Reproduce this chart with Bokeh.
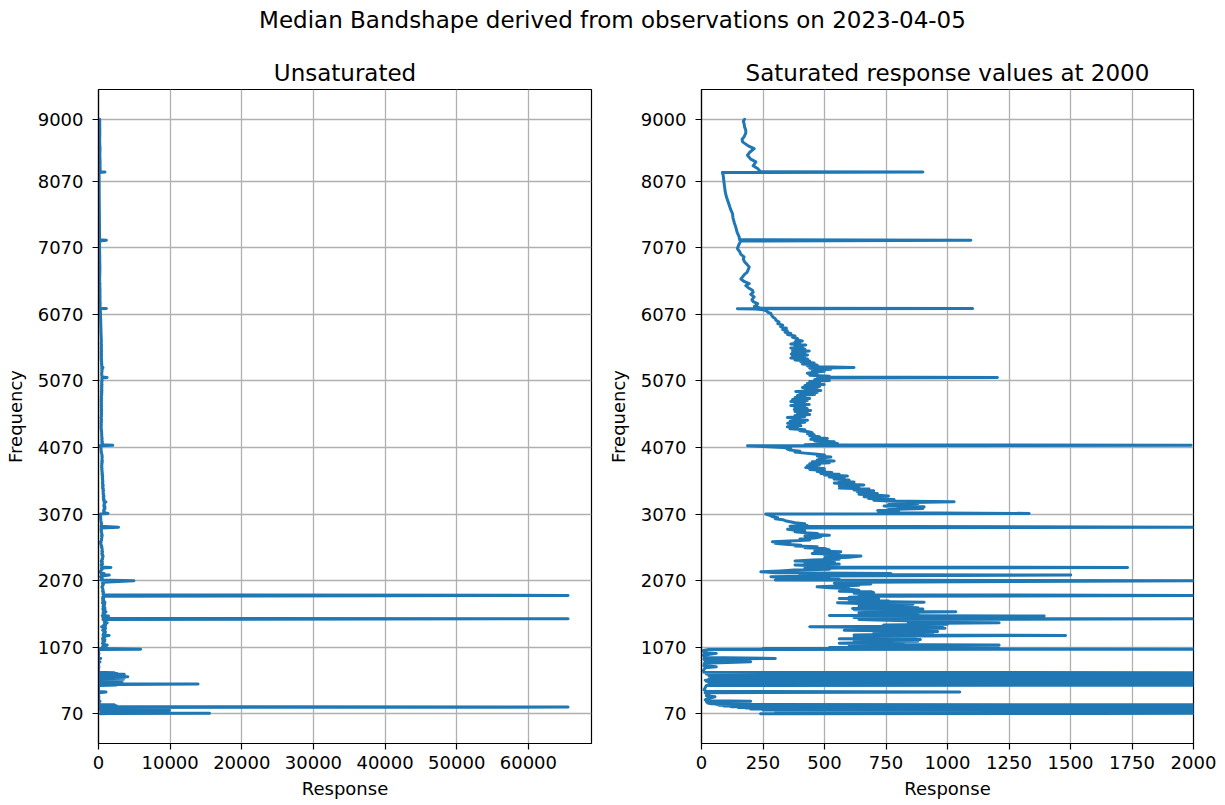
import numpy as np
from bokeh.plotting import figure
from bokeh.models import Range1d, FixedTicker, Div
from bokeh.layouts import column, row
from bokeh.embed import file_html
from bokeh.resources import INLINE

# ---------------- data (frequency, median response) ----------------
F1 = [70, 74, 78, 82, 86, 90, 94, 98, 102, 106,
      110, 114, 118, 122, 126, 130, 134, 138, 142, 146,
      150, 154, 158, 162, 166, 170, 176, 180, 186, 192,
      198, 204, 210, 216, 222]
R1 = [240, 1600, 15500, 900, 3500, 400, 3600, 2200, 600, 4200,
      300, 2800, 700, 9900, 250, 2400, 500, 3100, 200, 2600,
      350, 1900, 180, 2300, 150, 65535, 120, 2100, 90, 2500,
      70, 2200, 60, 150, 40]

F2 = [232, 250, 258, 265, 280, 300, 325, 340, 360, 385,
      398, 405, 430, 460, 495, 500, 505, 510, 516, 522,
      528, 534, 540, 546, 552, 558, 565, 572, 578, 584,
      590, 596, 602, 608, 614, 620, 626, 632, 638, 644,
      650, 656, 662, 668, 674, 680, 686, 692, 720, 760,
      776, 790, 830, 851, 865, 890, 902, 915, 950, 977,
      990, 1020, 1035]
R2 = [25, 20, 200, 30, 15, 25, 55, 20, 30, 15,
      1050, 20, 10, 15, 20, 2500, 60, 3000, 13900, 40,
      2800, 30, 3300, 50, 2600, 20, 300, 15, 3000, 40,
      3500, 30, 3200, 60, 3700, 40, 4100, 50, 3400, 30,
      3000, 40, 3600, 20, 2600, 30, 2200, 10, 8, 15,
      60, 10, 12, 200, 15, 10, 300, 12, 8, 60,
      10, 8, 30]

F3 = [1041, 1050, 1058, 1066, 1075, 1085, 1095, 1102, 1110, 1120,
      1130, 1142, 1150, 1160, 1170, 1180, 1187, 1195, 1205, 1215,
      1225, 1235, 1247, 1255, 1265, 1275, 1285, 1295, 1305, 1317,
      1325, 1335, 1345, 1355, 1365, 1377, 1385, 1395, 1405, 1415,
      1425, 1437, 1445, 1455, 1465, 1475, 1485, 1497, 1505, 1515,
      1525, 1537, 1545, 1555, 1565, 1575, 1585, 1595, 1602, 1610,
      1620, 1632, 1642, 1652, 1662, 1672, 1685, 1695, 1705, 1715,
      1725, 1737, 1745, 1755, 1765, 1775, 1785, 1795, 1802, 1812,
      1822, 1835, 1848, 1858, 1870, 1880, 1890, 1902, 1912, 1925,
      1940, 1952, 1962, 1977, 1990, 2000, 2010, 2020, 2030, 2045]
R3 = [5880, 250, 1210, 520, 760, 600, 870, 1210, 640, 820,
      560, 700, 640, 880, 620, 760, 890, 560, 720, 620,
      870, 680, 1480, 620, 790, 700, 940, 760, 960, 740,
      580, 900, 740, 990, 760, 440, 880, 980, 740, 1000,
      860, 1210, 840, 960, 880, 750, 640, 65535, 700, 620,
      880, 1393, 520, 780, 880, 720, 640, 860, 1034, 700,
      760, 620, 900, 614, 880, 780, 640, 820, 720, 860,
      640, 553, 905, 700, 760, 600, 680, 720, 560, 690,
      600, 720, 65535, 640, 700, 620, 700, 690, 560, 640,
      600, 600, 520, 470, 560, 640, 593, 688, 540, 640]

F4 = [2068, 2078, 2090, 2100, 2110, 2120, 2128, 2140, 2153, 2160,
      2170, 2178, 2188, 2203, 2215, 2228, 2240, 2250, 2260, 2268,
      2276, 2290, 2305, 2318, 2328, 2340, 2352, 2365, 2378, 2392,
      2405, 2420, 2438, 2450, 2465, 2478, 2490, 2503, 2515, 2530,
      2553, 2565, 2580, 2590, 2603, 2615, 2630, 2642, 2653, 2668,
      2680, 2695, 2710, 2728, 2740, 2752, 2765, 2778, 2790, 2805,
      2818, 2828, 2840, 2852, 2862, 2873, 2885, 2898, 2910, 2925,
      2940, 2955, 2970, 2985, 3000, 3015, 3029, 3045, 3060, 3070]
R4 = [4940, 300, 560, 420, 520, 330, 282, 500, 1501, 400,
      560, 770, 300, 241, 320, 377, 520, 420, 560, 1732,
      420, 480, 380, 560, 499, 420, 540, 380, 451, 560,
      500, 600, 648, 500, 560, 450, 520, 566, 460, 520,
      499, 420, 470, 380, 404, 340, 300, 360, 288, 380,
      440, 400, 460, 485, 420, 520, 440, 471, 420, 380,
      420, 383, 350, 420, 380, 2800, 360, 430, 400, 420,
      380, 360, 340, 330, 300, 310, 290, 280, 270, 261]

F5 = [3079, 3090, 3100, 3112, 3122, 3129, 3140, 3152, 3165, 3178,
      3190, 3204, 3215, 3228, 3240, 3254, 3265, 3278, 3290, 3302,
      3315, 3329, 3342, 3355, 3368, 3380, 3392, 3404, 3418, 3430,
      3445, 3460, 3479, 3492, 3505, 3520, 3535, 3550, 3565, 3580,
      3595, 3610, 3625, 3640, 3655, 3668, 3680, 3695, 3710, 3725,
      3740, 3755, 3768, 3780, 3795, 3810, 3825, 3840, 3855, 3868,
      3880, 3895, 3910, 3925, 3940, 3955, 3970, 3985, 4000, 4015,
      4030, 4045, 4055, 4070, 4085, 4095]
R5 = [1332, 800, 720, 790, 716, 803, 760, 900, 800, 905,
      742, 820, 760, 880, 800, 1027, 760, 700, 783, 680,
      740, 661, 760, 700, 640, 715, 650, 634, 700, 620,
      681, 560, 640, 560, 660, 580, 540, 620, 560, 600,
      539, 580, 520, 593, 500, 560, 485, 530, 470, 500,
      440, 499, 424, 470, 430, 480, 440, 520, 450, 539,
      470, 500, 480, 526, 471, 500, 460, 420, 380, 400,
      360, 349, 363, 330, 250, 187]

F6 = [4102, 4110, 4120, 4130, 4142, 4155, 4168, 4180, 4192, 4205,
      4218, 4230, 4245, 4260, 4275, 4290, 4305, 4320, 4335, 4350,
      4365, 4380, 4395, 4405, 4420, 4435, 4450, 4465, 4480, 4495,
      4505, 4520, 4535, 4550, 4565, 4580, 4595, 4610, 4625, 4640,
      4655, 4670, 4685, 4700, 4715, 4731, 4745, 4760, 4775, 4790,
      4805, 4820, 4835, 4850, 4865, 4880, 4895, 4910, 4925, 4940,
      4955, 4970, 4985, 5000, 5015, 5030, 5045, 5060, 5075, 5090,
      5105, 5115]
R6 = [1990, 420, 480, 553, 470, 540, 460, 500, 444, 512,
      450, 480, 440, 458, 431, 450, 435, 400, 420, 360,
      390, 349, 404, 360, 400, 350, 420, 360, 431, 370,
      400, 349, 420, 380, 440, 390, 430, 380, 444, 377,
      430, 380, 420, 363, 438, 380, 420, 363, 430, 370,
      440, 380, 420, 390, 460, 400, 470, 383, 485, 420,
      470, 410, 480, 420, 499, 430, 480, 440, 520, 460,
      500, 471]

F7 = [5121, 5128, 5140, 5155, 5170, 5185, 5200, 5215, 5230, 5245,
      5260, 5270, 5281, 5295, 5310, 5325, 5340, 5356, 5370, 5385,
      5400, 5415, 5431, 5445, 5460, 5475, 5490, 5505, 5520, 5535,
      5550, 5565, 5580, 5595, 5610, 5625, 5640, 5655, 5670, 5690,
      5707, 5725, 5745, 5765, 5782, 5800, 5820, 5840, 5860, 5882,
      5905, 5930, 5955, 5982, 6005, 6030, 6055, 6082, 6100, 6120,
      6140, 6150]
R7 = [1203, 480, 520, 440, 470, 430, 458, 500, 450, 526,
      440, 620, 480, 431, 470, 410, 458, 404, 440, 380,
      431, 363, 420, 370, 431, 365, 420, 370, 438, 370,
      420, 363, 410, 380, 424, 363, 400, 380, 410, 385,
      390, 370, 380, 350, 363, 340, 349, 330, 345, 322,
      330, 310, 315, 302, 300, 290, 285, 282, 270, 265,
      250, 220]

F8 = [6154, 6157, 6162, 6175, 6190, 6210, 6232, 6260, 6290, 6332,
      6370, 6400, 6432, 6470, 6500, 6532, 6560, 6600, 6632, 6670,
      6700, 6740, 6782, 6820, 6860, 6900, 6932, 6970, 7010, 7058,
      7100, 7140, 7170, 7183, 7190, 7233, 7300, 7383, 7450, 7520,
      7583, 7650, 7720, 7784, 7850, 7920, 7980, 8034, 8100, 8160,
      8200, 8206, 8212, 8259, 8300, 8359, 8400, 8459, 8500, 8559,
      8600, 8660, 8700, 8735, 8790, 8835, 8885, 8935, 8970, 9000]
R8 = [146, 1102, 240, 230, 215, 225, 228, 210, 205, 214,
      200, 210, 207, 190, 180, 194, 175, 160, 167, 175,
      185, 190, 194, 185, 175, 170, 173, 160, 155, 146,
      150, 155, 160, 1095, 155, 153, 145, 139, 133, 128,
      126, 118, 112, 106, 100, 96, 94, 92, 90, 88,
      85, 900, 240, 228, 210, 221, 200, 187, 195, 214,
      190, 167, 165, 173, 180, 180, 175, 173, 170, 175]

SATURATION = 2000
Y_TICKS = [70, 1070, 2070, 3070, 4070, 5070, 6070, 7070, 8070, 9000]
X_TICKS_LEFT = [0, 10000, 20000, 30000, 40000, 50000, 60000]
X_TICKS_RIGHT = [0, 250, 500, 750, 1000, 1250, 1500, 1750, 2000]

SUPTITLE = "Median Bandshape derived from observations on 2023-04-05"
TITLE_LEFT = "Unsaturated"
TITLE_RIGHT = "Saturated response values at 2000"

freq = np.array(F1 + F2 + F3 + F4 + F5 + F6 + F7 + F8, dtype=float)
resp = np.array(R1 + R2 + R3 + R4 + R5 + R6 + R7 + R8, dtype=float)
resp_sat = np.minimum(resp, SATURATION)

FONT = "DejaVu Sans"
BLUE = "#1f77b4"
ypad = 0.05 * (freq.max() - freq.min())
xmax_left = resp.max() * 1.05

FIG_H = 765


def make_fig(title, xs, x_end, xticks, width, mbl, mbr):
    p = figure(width=width, height=FIG_H, output_backend="svg", toolbar_location=None,
               x_range=Range1d(0, x_end),
               y_range=Range1d(freq.min() - ypad, freq.max() + ypad),
               min_border_left=mbl, min_border_right=mbr,
               min_border_top=49, min_border_bottom=62)
    p.title.text = title
    p.title.text_font = FONT
    p.title.text_font_size = "23px"
    p.title.text_font_style = "normal"
    p.title.text_color = "black"
    p.title.align = "center"
    p.title.standoff = 8
    p.line(x=xs, y=freq, line_color=BLUE, line_width=3,
           line_join="round", line_cap="round")
    p.xaxis.ticker = FixedTicker(ticks=xticks)
    p.yaxis.ticker = FixedTicker(ticks=Y_TICKS)
    p.xaxis.axis_label = "Response"
    p.yaxis.axis_label = "Frequency"
    for ax in (p.xaxis, p.yaxis):
        ax.axis_line_color = "black"
        ax.axis_line_width = 1.2
        ax.major_tick_line_color = "black"
        ax.major_tick_line_width = 1.2
        ax.major_tick_out = 6
        ax.major_tick_in = 0
        ax.minor_tick_out = 0
        ax.minor_tick_in = 0
        ax.major_label_text_font = FONT
        ax.major_label_text_font_size = "18px"
        ax.major_label_text_color = "black"
        ax.axis_label_text_font = FONT
        ax.axis_label_text_font_size = "18px"
        ax.axis_label_text_font_style = "normal"
        ax.axis_label_text_color = "black"
    p.yaxis.major_label_standoff = 9
    p.xaxis.major_label_standoff = 6
    p.yaxis.axis_label_standoff = 9
    p.xaxis.axis_label_standoff = 6
    for g in (p.xgrid, p.ygrid):
        g.grid_line_color = "#b0b0b0"
        g.grid_line_width = 1.3
        g.grid_line_alpha = 1.0
    p.outline_line_color = "black"
    p.outline_line_width = 1.2
    p.outline_line_alpha = 1.0
    p.background_fill_color = "white"
    p.border_fill_color = "white"
    return p


p1 = make_fig(TITLE_LEFT, resp, xmax_left, X_TICKS_LEFT, 600, 98, 9)
p2 = make_fig(TITLE_RIGHT, resp_sat, SATURATION, X_TICKS_RIGHT, 625, 101, 32)

header = Div(text=SUPTITLE, width=1225, height=40, margin=(0, 0, 0, 0),
             styles={"font-family": FONT, "font-size": "23px", "text-align": "center",
                     "color": "black", "padding-top": "4px", "width": "1225px",
                     "box-sizing": "border-box"})

layout = column(header, row(p1, p2, spacing=0), spacing=0)

open("out.html", "w").write(file_html(layout, INLINE))
